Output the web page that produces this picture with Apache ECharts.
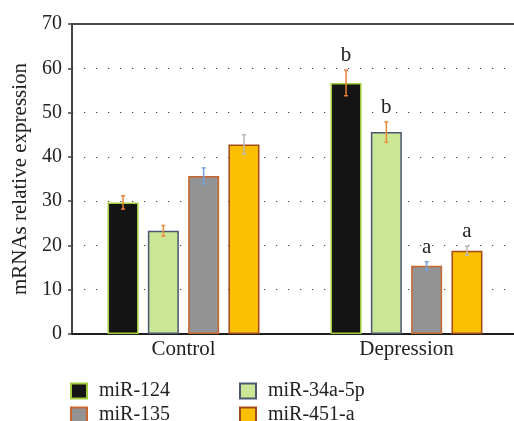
<!DOCTYPE html>
<html>
<head>
<meta charset="utf-8">
<script src="https://cdn.jsdelivr.net/npm/echarts@6/dist/echarts.min.js"></script>
<style>html,body{margin:0;padding:0;background:#fff}#c{width:514px;height:421px}</style>
</head>
<body>
<div id="c"></div>
<script>
const categories = ['Control', 'Depression'];
const seriesNames = ['miR-124', 'miR-34a-5p', 'miR-135', 'miR-451-a'];
const mir124 = [29.7, 56.7];
const mir34a5p = [23.3, 45.6];
const mir135 = [35.7, 15.4];
const mir451a = [42.8, 18.8];
const err124 = [1.5, 2.9];
const err34a5p = [1.2, 2.3];
const err135 = [1.8, 0.9];
const err451a = [2.2, 1.0];
const letters124 = ['', 'b'];
const letters34a5p = ['', 'b'];
const letters135 = ['', 'a'];
const letters451a = ['', 'a'];
const yTicks = [0, 10, 20, 30, 40, 50, 60, 70];

const values = [mir124, mir34a5p, mir135, mir451a];
const errors = [err124, err34a5p, err135, err451a];
const letters = [letters124, letters34a5p, letters135, letters451a];

const fills = ['#141414', '#c9e795', '#939393', '#f9bf00'];
const borders = ['#a3cc3c', '#4d5670', '#c8662e', '#a44a1a'];
const errColors = ['#e8803a', '#ef8a3c', '#6fa3dc', '#b8b8b8'];
const FONT = 'Liberation Serif';
const BAR_W = 31, GAP_RATIO = 0.3;

const chart = echarts.init(document.getElementById('c'), null, {renderer: 'canvas'});

const barSeries = seriesNames.map((n, i) => ({
  name: n, type: 'bar', data: values[i], barWidth: BAR_W, barGap: (GAP_RATIO * 100) + '%',
  itemStyle: {color: fills[i], borderColor: borders[i], borderWidth: 1.5},
  emphasis: {disabled: true}, z: 2
}));

const errSeries = seriesNames.map((n, i) => ({
  name: n + '-err', type: 'custom', z: 3, silent: true,
  data: categories.map((c, k) => [k, values[i][k], errors[i][k]]),
  renderItem: function (params, api) {
    const k = api.value(0), v = api.value(1), e = api.value(2);
    const off = (i - 1.5) * BAR_W * (1 + GAP_RATIO);
    const hi = api.coord([k, v + e]), lo = api.coord([k, v - e]);
    const x = hi[0] + off;
    const cap = 2;
    const st = {stroke: errColors[i], lineWidth: 1.5};
    const children = [
      {type: 'line', shape: {x1: x, y1: hi[1], x2: x, y2: lo[1]}, style: st},
      {type: 'line', shape: {x1: x - cap, y1: hi[1], x2: x + cap, y2: hi[1]}, style: st},
      {type: 'line', shape: {x1: x - cap, y1: lo[1], x2: x + cap, y2: lo[1]}, style: st}
    ];
    const t = letters[i][params.dataIndex];
    if (t) {
      children.push({type: 'text', style: {text: t, x: x, y: hi[1] - 4, align: 'center', verticalAlign: 'bottom',
        fontSize: 21, fontFamily: FONT, fill: '#222'}});
    }
    return {type: 'group', children: children};
  }
}));

const legendCommon = {
  orient: 'vertical', icon: 'rect', itemWidth: 16, itemHeight: 15, itemGap: 4, height: 60, padding: 0,
  textStyle: {fontFamily: FONT, fontSize: 20, lineHeight: 18, color: '#222', padding: [0, 0, 0, 7]},
  selectedMode: false
};

chart.setOption({
  animation: false,
  backgroundColor: '#fff',
  grid: {left: 72, top: 24, width: 446, bottom: 87, outerBoundsMode: 'none', containLabel: false,
    show: true, borderColor: '#111', borderWidth: 1.5, backgroundColor: 'transparent'},
  legend: [
    Object.assign({left: 70, top: 381, data: [seriesNames[0], seriesNames[2]]}, legendCommon),
    Object.assign({left: 239, top: 381, data: [seriesNames[1], seriesNames[3]]}, legendCommon)
  ],
  xAxis: {
    type: 'category', data: categories,
    axisLine: {show: true, lineStyle: {color: '#111', width: 1.5}},
    axisTick: {show: false},
    axisLabel: {fontFamily: FONT, fontSize: 21, color: '#222', margin: 5}
  },
  yAxis: {
    type: 'value', min: yTicks[0], max: yTicks[yTicks.length - 1], interval: 10,
    name: 'mRNAs relative expression', nameLocation: 'middle', nameGap: 40,
    nameTextStyle: {fontFamily: FONT, fontSize: 21, color: '#222'},
    axisLine: {show: true, lineStyle: {color: '#444', width: 2}},
    axisTick: {show: true, length: 4, lineStyle: {color: '#444', width: 1.5}},
    axisLabel: {fontFamily: FONT, fontSize: 20, color: '#222', margin: 10},
    splitLine: {show: true, lineStyle: {color: '#444', width: 1.2, type: [1.2, 10.8]}}
  },
  series: barSeries.concat(errSeries)
});
</script>
</body>
</html>
